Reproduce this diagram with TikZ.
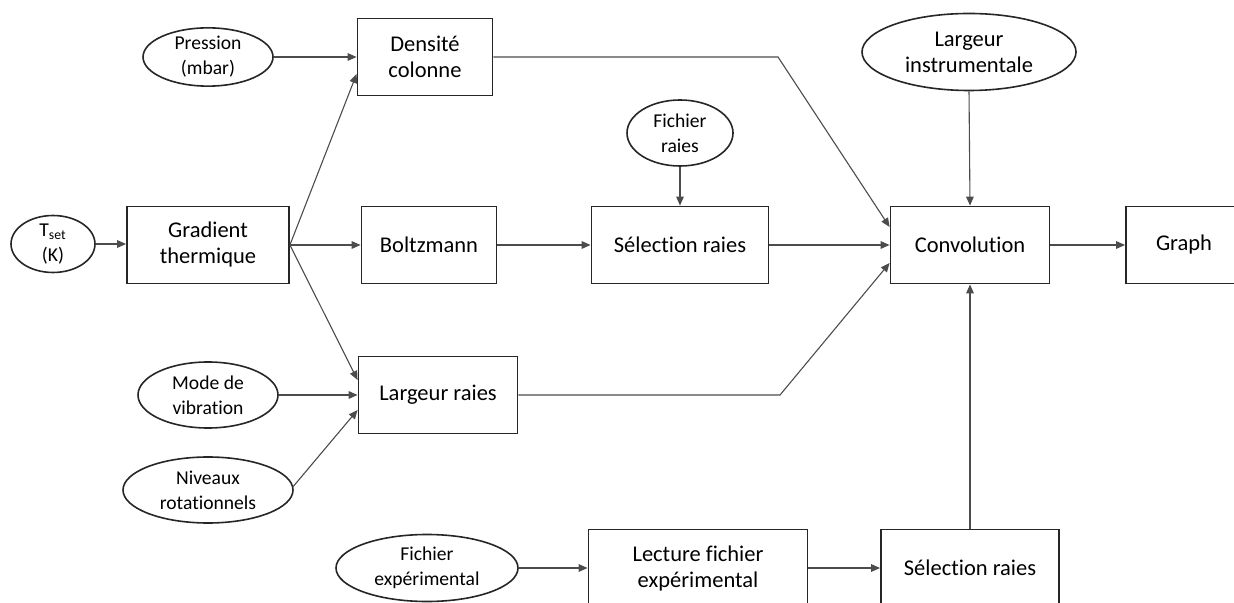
\documentclass[tikz,border=0pt]{standalone}
\usepackage{fontspec}
\setmainfont{Carlito}[Ligatures=NoCommon,RawFeature={-liga;-clig;-dlig}]
\usetikzlibrary{shapes.geometric,arrows.meta,calc}
\tikzset{
  box/.style={draw=black!85, line width=0.9pt, fill=white, rectangle, align=center, inner sep=0pt,
    font=\fontsize{11.25}{13}\selectfont, minimum height=38.5pt},
  oval/.style={draw=black!85, line width=0.8pt, fill=white, ellipse, align=center, inner sep=0pt,
    font=\fontsize{9.8}{12.5}\selectfont},
  conn/.style={draw=black!70, line width=0.55pt, -{Triangle[length=4.5pt,width=3.8pt]}},
  plain/.style={draw=black!70, line width=0.55pt}
}
\begin{document}
\begin{tikzpicture}[x=0.5pt,y=-0.5pt]
\useasboundingbox (0,0) rectangle (1234,603);
\clip (0,0) rectangle (1234,603);
% boxes
\node[box, minimum width=67.5pt] (dens) at (425,57) {Densité\\colonne};
\node[box, minimum width=81pt] (grad) at (208,245) {Gradient\\thermique};
\node[box, minimum width=67.5pt] (boltz) at (429,245) {Boltzmann};
\node[box, minimum width=88.5pt] (sel1) at (680,245) {Sélection raies};
\node[box, minimum width=79.5pt] (conv) at (970,245) {Convolution};
\node[box, minimum width=58pt] (graph) at (1184,245) {Graph};
\node[box, minimum width=79.5pt] (larg) at (438,395) {Largeur raies};
\node[box, minimum width=109.5pt] (lect) at (698,568) {Lecture fichier\\expérimental};
\node[box, minimum width=89pt] (sel2) at (970,568) {Sélection raies};
% ovals
\node[oval, minimum width=65pt, minimum height=27pt] (press) at (208,57) {Pression\\(mbar)};
\node[oval, minimum width=42pt, minimum height=27.5pt] (tset) at (53,244) {T\textsubscript{set}\\(K)};
\node[oval, minimum width=107pt, minimum height=38.5pt, font=\fontsize{11.25}{13}\selectfont] (lins) at (969,52) {Largeur\\instrumentale};
\node[oval, minimum width=53pt, minimum height=33pt] (fraies) at (680,133) {Fichier\\raies};
\node[oval, minimum width=70pt, minimum height=33pt] (mode) at (208,395) {Mode de\\vibration};
\node[oval, minimum width=85pt, minimum height=33pt] (niv) at (208,490) {Niveaux\\rotationnels};
\node[oval, minimum width=91pt, minimum height=33.5pt] (fexp) at (427,568) {Fichier\\expérimental};
% bend points
\coordinate (b1) at (778,57);
\coordinate (b2) at (780,395);
% connectors
\draw[conn] (tset.east) -- (tset.east -| grad.west);
\draw[conn] (press.east) -- (dens.west);
\draw[conn] (grad.east) -- ($(dens.west)+(0,17)$);
\draw[conn] (grad.east) -- (boltz.west);
\draw[conn] (grad.east) -- ($(larg.west)+(0,-15)$);
\draw[conn] (mode.east) -- (larg.west);
\draw[conn] ($(niv.east)+(-1,-3)$) -- ($(larg.west)+(0,15)$);
\draw[conn] (boltz.east) -- (sel1.west);
\draw[conn] (fraies.south) -- (sel1.north);
\draw[conn] (sel1.east) -- (conv.west);
\draw[conn] (dens.east) -- (b1) -- ($(conv.west)+(0,-18)$);
\draw[conn] (larg.east) -- (b2) -- ($(conv.west)+(0,18)$);
\draw[conn] (lins.south) -- (conv.north);
\draw[conn] (sel2.north) -- (conv.south);
\draw[conn] (conv.east) -- (graph.west);
\draw[conn] (fexp.east) -- (lect.west);
\draw[conn] (lect.east) -- (sel2.west);
\end{tikzpicture}
\end{document}
